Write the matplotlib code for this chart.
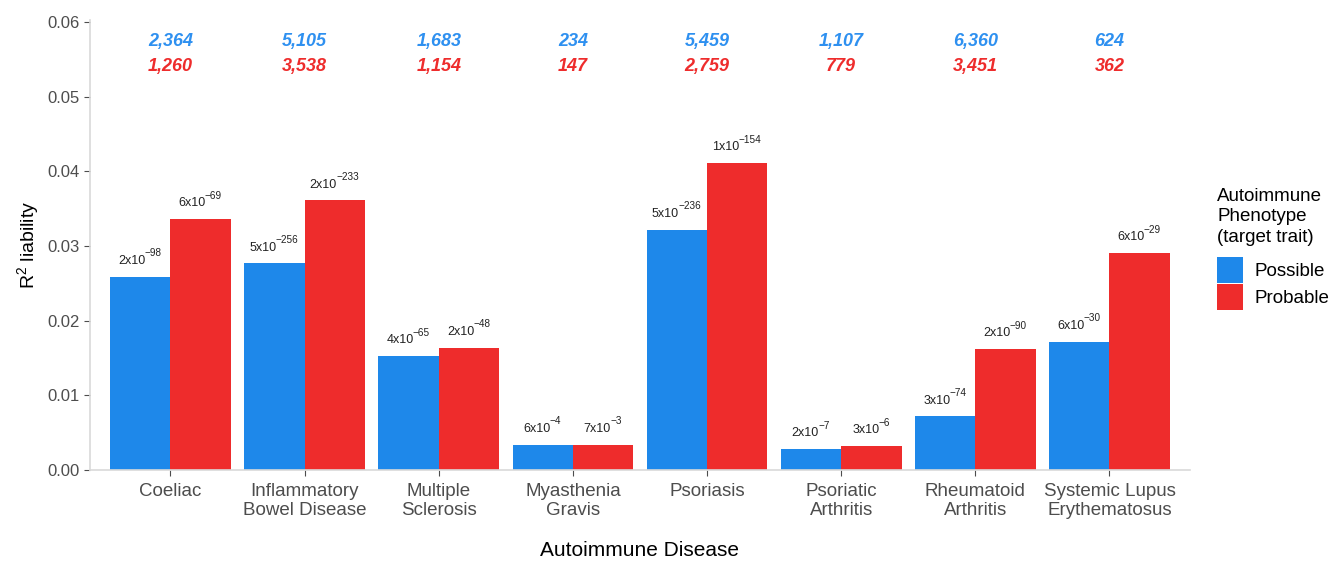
import numpy as np
import matplotlib
matplotlib.use('Agg')
import matplotlib.pyplot as plt
from matplotlib.patches import Patch
from matplotlib.transforms import ScaledTranslation

plt.rcParams['font.family'] = ['Liberation Sans', 'DejaVu Sans']
plt.rcParams['mathtext.fontset'] = 'custom'
plt.rcParams['mathtext.rm'] = 'Liberation Sans'

diseases = ['Coeliac', 'Inflammatory\nBowel Disease', 'Multiple\nSclerosis', 'Myasthenia\nGravis',
            'Psoriasis', 'Psoriatic\nArthritis', 'Rheumatoid\nArthritis', 'Systemic Lupus\nErythematosus']
possible_r2 = [0.0259, 0.0277, 0.0153, 0.0034, 0.0322, 0.0028, 0.0072, 0.0172]
probable_r2 = [0.0336, 0.0361, 0.0164, 0.0034, 0.0411, 0.0032, 0.0162, 0.0291]
possible_p = [('2', '-98'), ('5', '-256'), ('4', '-65'), ('6', '-4'), ('5', '-236'), ('2', '-7'), ('3', '-74'), ('6', '-30')]
probable_p = [('6', '-69'), ('2', '-233'), ('2', '-48'), ('7', '-3'), ('1', '-154'), ('3', '-6'), ('2', '-90'), ('6', '-29')]
possible_n = ['2,364', '5,105', '1,683', '234', '5,459', '1,107', '6,360', '624']
probable_n = ['1,260', '3,538', '1,154', '147', '2,759', '779', '3,451', '362']

blue = '#1E88EA'
red = '#EE2C2C'
text_blue = '#2E90F0'

fig = plt.figure(figsize=(13.29, 5.65), dpi=100)
ax = fig.add_axes([0.0677, 0.168, 0.8277, 0.797])

x = np.arange(1, len(diseases) + 1)
w = 0.45
ax.bar(x - w / 2, possible_r2, width=w, color=blue, edgecolor='none')
ax.bar(x + w / 2, probable_r2, width=w, color=red, edgecolor='none')

pairs = []
def p_label(xc, y, mant, expo):
    t1 = ax.text(xc, y, mant + 'x10', ha='left', va='bottom', fontsize=9, color='#222222')
    t2 = ax.annotate(expo.replace('-', '\u2212'), xy=(1, 1), xycoords=t1, xytext=(-0.6, -2.5),
                     textcoords='offset points', ha='left', va='bottom', fontsize=7.2, color='#222222')
    pairs.append((t1, t2))

for i in range(len(diseases)):
    p_label(x[i] - w / 2, possible_r2[i] + 0.0013, *possible_p[i])
    p_label(x[i] + w / 2, probable_r2[i] + 0.0013, *probable_p[i])
    ax.text(x[i], 0.05745, possible_n[i], ha='center', va='center', fontsize=13,
            color=text_blue, fontweight='bold', style='italic')
    ax.text(x[i], 0.0540, probable_n[i], ha='center', va='center', fontsize=13,
            color=red, fontweight='bold', style='italic')

ax.set_xlim(0.4, 8.6)
ax.set_ylim(0, 0.0603)
ax.set_yticks([0, 0.01, 0.02, 0.03, 0.04, 0.05, 0.06])
ax.set_yticklabels(['0.00', '0.01', '0.02', '0.03', '0.04', '0.05', '0.06'])
ax.set_xticks(x)
ax.set_xticklabels(diseases, linespacing=1.2)
ax.tick_params(axis='both', labelcolor='#4D4D4D', color='#4D4D4D', length=4)
ax.tick_params(axis='y', labelsize=12)
ax.tick_params(axis='x', labelsize=13.5, pad=5)

for s in ['top', 'right']:
    ax.spines[s].set_visible(False)
for s in ['left', 'bottom']:
    ax.spines[s].set_color('#D9D9D9')
    ax.spines[s].set_linewidth(1.2)

ax.set_xlabel('Autoimmune Disease', fontsize=15, labelpad=16)
ax.set_ylabel('R$^2$ liability', fontsize=14, labelpad=4)

handles = [Patch(facecolor=blue, label='Possible'), Patch(facecolor=red, label='Probable')]
leg = fig.legend(handles=handles, title='Autoimmune\nPhenotype\n(target trait)', loc='upper left',
                 bbox_to_anchor=(0.9158, 0.667), frameon=False, fontsize=13.5, title_fontsize=13.5,
                 handlelength=1.4, handleheight=1.75, handletextpad=0.6, labelspacing=0.05,
                 borderaxespad=0, borderpad=0)
leg._legend_box.align = 'left'
leg._legend_box.sep = 8
leg.get_title().set_linespacing(1.25)

# centre the two-part p-value labels over their bars
renderer = fig.canvas.get_renderer()
for t1, t2 in pairs:
    w1 = t1.get_window_extent(renderer).width
    w2 = t2.get_window_extent(renderer).width
    shift = -(w1 + w2) / 2 / fig.dpi
    t1.set_transform(ax.transData + ScaledTranslation(shift, 0, fig.dpi_scale_trans))

fig.savefig('out.png', dpi=100)
